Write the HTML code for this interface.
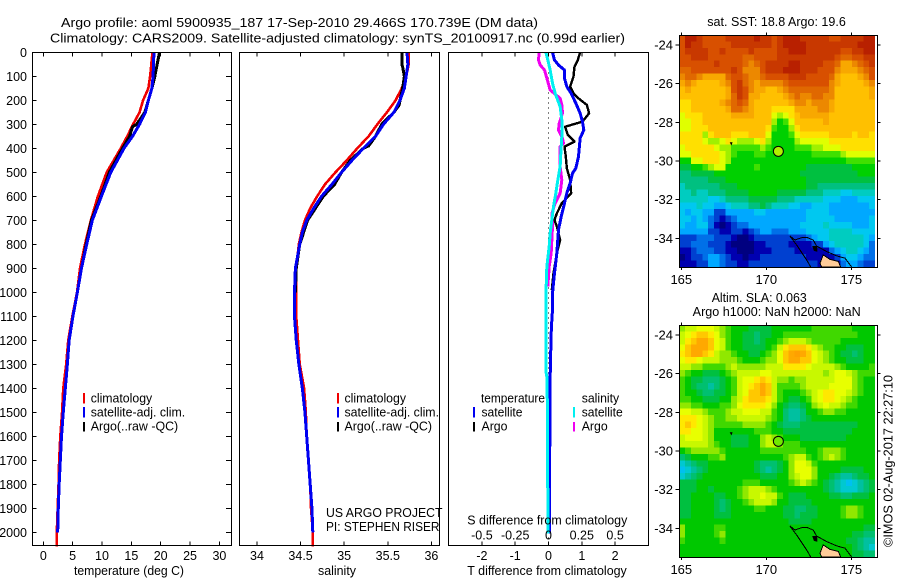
<!DOCTYPE html>
<html lang="en">
<head>
<meta charset="utf-8">
<title>Argo profile 5900935_187</title>
<style>
html,body{margin:0;padding:0;background:#fff;}
svg{display:block;}
text{font-family:"Liberation Sans",sans-serif;font-size:12.5px;fill:#000;}
</style>
</head>
<body>
<svg id="chart" xmlns="http://www.w3.org/2000/svg" width="900" height="580" viewBox="0 0 900 580">
<rect x="0" y="0" width="900" height="580" fill="#fff"/>
<g id="marks"></g>
<g>
<text x="61" y="27" textLength="477" lengthAdjust="spacingAndGlyphs">Argo profile: aoml 5900935_187 17-Sep-2010 29.466S 170.739E (DM data)</text>
<text x="50" y="42.5" textLength="575" lengthAdjust="spacingAndGlyphs">Climatology: CARS2009. Satellite-adjusted climatology: synTS_20100917.nc (0.99d earlier)</text>
</g>
<g>
<text x="74" y="575" textLength="110" lengthAdjust="spacingAndGlyphs">temperature (deg C)</text>
<text x="318" y="575" textLength="38" lengthAdjust="spacingAndGlyphs">salinity</text>
<text x="467.3" y="575" textLength="159.5" lengthAdjust="spacingAndGlyphs">T difference from climatology</text>
<text x="467.3" y="524.5" textLength="160" lengthAdjust="spacingAndGlyphs">S difference from climatology</text>
</g>
<g>
<rect x="83" y="393" width="2" height="10.5" fill="#f00000"/>
<rect x="83" y="407" width="2" height="10.5" fill="#0000f0"/>
<rect x="83" y="422" width="2" height="9.5" fill="#000"/>
<text x="90.7" y="402.5" textLength="61.5" lengthAdjust="spacingAndGlyphs">climatology</text>
<text x="90.7" y="416.5" textLength="94.5" lengthAdjust="spacingAndGlyphs">satellite-adj. clim.</text>
<text x="90.7" y="430.5" textLength="87.5" lengthAdjust="spacingAndGlyphs">Argo(..raw -QC)</text>
</g>
<g>
<rect x="337" y="393" width="2" height="10.5" fill="#f00000"/>
<rect x="337" y="407" width="2" height="10.5" fill="#0000f0"/>
<rect x="337" y="422" width="2" height="9.5" fill="#000"/>
<text x="344.5" y="402.5" textLength="61.5" lengthAdjust="spacingAndGlyphs">climatology</text>
<text x="344.5" y="416.5" textLength="94.5" lengthAdjust="spacingAndGlyphs">satellite-adj. clim.</text>
<text x="344.5" y="430.5" textLength="87.5" lengthAdjust="spacingAndGlyphs">Argo(..raw -QC)</text>
<text x="326" y="516.8" textLength="116.5" lengthAdjust="spacingAndGlyphs">US ARGO PROJECT</text>
<text x="326" y="531" textLength="113.5" lengthAdjust="spacingAndGlyphs">PI: STEPHEN RISER</text>
</g>
<g>
<text x="481" y="402.5" textLength="64" lengthAdjust="spacingAndGlyphs">temperature</text>
<rect x="473" y="407" width="2" height="10.5" fill="#0000f0"/>
<text x="481.5" y="416.5" textLength="41" lengthAdjust="spacingAndGlyphs">satellite</text>
<rect x="473" y="422" width="2" height="9.5" fill="#000"/>
<text x="481.5" y="430.5" textLength="26" lengthAdjust="spacingAndGlyphs">Argo</text>
<text x="581.7" y="402.5" textLength="37.5" lengthAdjust="spacingAndGlyphs">salinity</text>
<rect x="573" y="407" width="2" height="10.5" fill="#00f0f0"/>
<text x="581.7" y="416.5" textLength="41" lengthAdjust="spacingAndGlyphs">satellite</text>
<rect x="573" y="422" width="2" height="9.5" fill="#f000f0"/>
<text x="581.7" y="430.5" textLength="26" lengthAdjust="spacingAndGlyphs">Argo</text>
</g>
<g>
<text x="707.3" y="26" textLength="138.5" lengthAdjust="spacingAndGlyphs">sat. SST: 18.8 Argo: 19.6</text>
<text x="711.7" y="301.8" textLength="95" lengthAdjust="spacingAndGlyphs">Altim. SLA: 0.063</text>
<text x="692.7" y="316" textLength="168" lengthAdjust="spacingAndGlyphs">Argo h1000: NaN h2000: NaN</text>
</g>
<text transform="translate(892.5 547) rotate(-90)" x="0" y="0" textLength="172" lengthAdjust="spacingAndGlyphs">©IMOS 02-Aug-2017 22:27:10</text>
</svg>
<script>
// ---------- profile data ----------
const depthTicks = [0,100,200,300,400,500,600,700,800,900,1000,1100,1200,1300,1400,1500,1600,1700,1800,1900,2000];
const tempTicks = [0,5,10,15,20,25,30];
const salTicks = [34,34.5,35,35.5,36];
const salTickLabels = ['34','34.5','35','35.5','36'];
const tDiffTicks = [-2,-1,0,1,2];
const tDiffTickLabels = ['-2','-1','0','1','2'];
const sDiffTicks = [-0.5,-0.25,0,0.25,0.5];
const sDiffTickLabels = ['-0.5','-0.25','0','0.25','0.5'];

const tempClimDepth = [0,100,150,200,250,300,350,400,500,600,700,800,900,1000,1100,1200,1300,1400,1500,1600,1700,1800,1900,2000,2060];
const tempClim = [18.6,18.2,17.9,17.0,16.4,15.3,14.3,13.2,10.8,9.3,8.1,7.1,6.25,5.75,4.95,4.25,3.9,3.4,3.2,2.9,2.7,2.6,2.45,2.3,2.3];
const tempSatDepth = [0,100,150,200,250,300,350,400,500,600,700,800,900,1000,1100,1200,1300,1400,1500,1600,1700,1800,1900,2000];
const tempSat = [18.85,18.7,18.5,17.9,17.4,16.4,15.2,13.75,11.5,9.9,8.35,7.4,6.5,5.8,5.05,4.4,4.1,3.75,3.4,3.1,2.9,2.7,2.55,2.45];
const tempArgoDepth = [0,50,100,150,200,250,300,310,350,400,500,600,700,800,900,1000];
const tempArgo = [19.8,19.4,19.0,18.5,17.9,17.3,15.9,15.2,14.7,13.5,11.25,9.8,8.2,7.3,6.5,5.8];

const salClimDepth = [0,50,100,150,200,250,300,350,400,450,500,550,600,650,700,750,800,900,1000,1100,1200,1300,1400,1500,1600,1700,1800,1900,2000,2060];
const salClim = [35.74,35.74,35.71,35.66,35.59,35.49,35.38,35.28,35.15,35.03,34.9,34.78,34.69,34.61,34.55,34.51,34.48,34.45,34.45,34.45,34.47,34.49,34.54,34.56,34.57,34.59,34.61,34.62,34.64,34.64];
const salSatDepth = [0,50,100,150,200,250,300,350,400,450,500,550,600,650,700,750,800,900,1000,1100,1200,1300,1400,1500,1600,1700,1800,1900,2000];
const salSat = [35.72,35.73,35.71,35.69,35.64,35.57,35.45,35.36,35.22,35.09,34.97,34.86,34.74,34.65,34.57,34.52,34.49,34.44,34.43,34.43,34.45,34.48,34.52,34.55,34.57,34.59,34.61,34.63,34.64];
const salArgoDepth = [0,50,60,100,150,200,220,250,300,350,390,400,450,500,550,600,650,700,800,900,1000];
const salArgo = [35.66,35.66,35.67,35.69,35.67,35.64,35.63,35.57,35.43,35.36,35.28,35.22,35.07,34.97,34.89,34.76,34.67,34.58,34.49,34.45,34.44];

const dtSatDepth = [0,32,53,74,108,143,171,212,254,289,324,358,435,483,504,546,587,629,685,740,837,921,1004,1074,1115,1171,1351,1518,1726,2004];
const dtSat = [0.12,0.18,0.30,0.48,0.48,0.55,0.68,0.82,0.95,1.02,1.06,0.95,0.90,0.82,0.72,0.65,0.55,0.48,0.38,0.30,0.25,0.18,0.12,0.12,0.10,0.08,0.05,0.05,0.03,0.03];
const dtArgoDepth = [0,32,60,101,143,171,192,219,254,289,310,344,372,393,435,483,532,587,629,671,699,726,782,837,921,990];
const dtArgo = [0.95,0.88,0.78,0.75,0.65,0.75,0.90,1.15,1.22,1.02,0.50,0.58,0.78,0.48,0.52,0.55,0.65,0.68,0.40,0.25,0.18,0.25,0.35,0.25,0.15,0.10];
const dsArgoDepth = [0,32,53,74,108,157,192,219,254,296,324,358,379,393,476,532,587,629,671,726,782,837,893,976];
const dsArgo = [-0.07,-0.075,-0.0625,-0.03,-0.0125,0.0125,0.0875,0.10,0.105,0.08,0.075,0.105,0.1125,0.0875,0.0875,0.10,0.0875,0.05,0.025,0.03,0.025,0.02,0.005,-0.005];
const dsSatDepth = [0,32,74,129,171,226,282,351,421,476,532,587,643,699,754,810,893,976,1074,1171,1337,1358,1698,2004];
const dsSat = [-0.02,-0.005,0.0125,0.03,0.05,0.0875,0.10,0.10,0.0925,0.0875,0.07,0.055,0.0375,0.025,0.0125,0.005,-0.0125,-0.0175,-0.0175,-0.0175,-0.0175,-0.01,-0.0075,-0.0025];

// ---------- map data ----------
const mapLonTicks = [165,170,175];
const mapLatTicks = [-24,-26,-28,-30,-32,-34];
const profileLon = [170.71];
const profileLat = [-29.5];
const coastALon = [171.39,171.78,172.37,172.61];
const coastALat = [-33.88,-34.34,-35.12,-35.48];
const coastBLon = [171.39,171.69,172.08,172.37,172.76,172.96,173.55,174.14,174.63,175.02];
const coastBLat = [-33.88,-34.09,-33.97,-33.95,-34.09,-34.40,-34.69,-34.91,-35.03,-35.48];
const landLon = [173.16,173.35,173.75,174.24,174.37,173.25];
const landLat = [-35.29,-34.86,-35.09,-35.20,-35.48,-35.48];
const isletLon = [167.85,168.02,167.95];
const isletLat = [-29.03,-29.03,-29.2];
const reefLon = [172.7,173.0,173.0,172.8];
const reefLat = [-34.4,-34.4,-34.7,-34.65];

const sstGrid = [
[18,20,20,19,18,18,18,18,19,19,19,19,19,20,19,19,18,19,20,20,20,19,19,19,19,19,18,18,19,19,19,19,20,20],
[18,20,19,19,18,18,18,18,18,19,19,19,19,19,19,19,18,19,20,20,20,20,19,19,19,19,19,19,19,19,19,20,20,20],
[18,19,19,19,19,18,18,19,18,18,18,18,19,18,18,18,18,19,19,20,20,20,19,19,19,19,19,19,18,18,19,19,20,20],
[18,18,19,19,19,18,18,18,18,18,18,17,17,18,18,18,18,19,19,19,19,19,19,19,19,19,19,18,17,17,18,18,19,19],
[18,18,18,18,18,18,19,18,18,18,18,17,16,17,18,19,19,19,19,20,20,19,19,19,19,18,18,17,15,15,16,17,18,19],
[17,17,18,18,18,18,18,18,18,19,18,16,16,16,18,19,19,19,20,20,20,19,19,19,18,18,18,16,15,15,15,16,17,18],
[16,17,17,16,15,15,15,15,17,18,18,17,16,16,17,18,18,18,18,19,19,19,18,18,18,18,17,15,14,14,14,15,16,18],
[15,16,15,14,14,14,14,15,16,18,19,17,16,15,16,16,16,16,17,18,18,18,18,18,18,18,16,15,14,14,14,14,15,16],
[14,15,14,14,14,14,14,14,15,18,19,18,16,15,15,14,14,15,16,17,17,17,17,17,17,17,16,14,14,14,14,14,14,15],
[14,14,14,14,14,14,14,14,15,17,19,18,15,15,14,14,14,14,15,16,17,16,16,17,17,16,16,14,14,14,14,14,14,15],
[13,13,14,14,14,14,14,15,16,17,18,17,15,14,14,14,14,14,14,15,16,16,15,16,16,16,15,14,14,14,14,14,14,14],
[13,13,14,14,14,14,14,14,15,17,17,16,15,14,14,14,13,13,13,13,15,15,15,15,16,16,15,14,14,14,14,14,14,14],
[12,13,13,13,14,14,14,14,14,15,15,15,15,14,14,14,12,11,12,13,14,15,15,15,15,15,14,14,14,14,14,14,14,14],
[12,12,13,13,14,14,14,14,14,14,14,14,14,14,14,14,11,9,10,12,14,14,14,14,14,15,14,14,14,14,14,14,14,14],
[12,12,13,13,13,14,14,14,14,14,14,14,14,14,14,13,10,9,9,11,13,14,14,14,14,14,14,14,14,14,14,14,14,14],
[13,13,13,13,11,13,14,14,14,13,13,13,14,14,14,12,9,9,9,10,12,13,13,13,13,13,14,14,14,14,13,14,14,13],
[13,13,13,13,12,11,11,12,13,12,11,11,11,12,13,11,9,9,9,9,11,12,12,12,12,12,13,13,13,13,13,13,13,13],
[12,13,13,13,13,13,12,11,11,10,10,10,10,10,11,10,9,9,9,9,10,10,10,11,11,12,12,12,13,13,13,13,13,13],
[12,12,13,13,13,13,13,12,11,10,9,9,9,10,10,9,9,9,9,9,9,9,9,10,10,10,10,10,11,12,12,12,12,12],
[9,9,12,12,13,13,13,12,11,9,9,9,9,9,9,9,9,9,9,9,9,9,9,9,9,9,9,9,9,10,10,10,10,10],
[8,8,9,9,10,11,12,12,9,9,9,9,9,10,9,9,9,9,9,9,9,9,8,8,8,8,8,8,8,8,9,9,9,9],
[7,7,8,8,8,8,9,9,9,9,9,9,9,9,9,9,9,9,9,9,9,8,8,8,8,8,8,8,8,8,8,9,9,9],
[7,7,7,7,7,8,8,8,9,9,9,9,9,9,9,9,9,9,9,9,9,9,8,8,8,8,8,8,8,8,8,8,8,8],
[6,7,7,7,7,7,7,8,8,8,9,9,9,9,9,9,9,9,9,9,9,9,8,8,7,7,7,7,7,7,7,7,7,7],
[6,6,7,6,6,7,7,7,8,8,8,8,9,9,9,9,9,8,8,8,8,8,7,7,7,6,6,6,5,5,6,6,6,6],
[6,6,6,6,6,5,5,6,7,7,7,7,8,8,8,8,8,7,7,7,6,6,6,6,6,5,5,5,4,4,4,5,5,5],
[5,5,5,6,5,5,4,4,5,6,6,6,7,7,8,7,6,6,6,5,5,4,4,5,5,5,4,4,4,4,4,4,4,5],
[5,4,5,5,4,4,2,2,4,4,4,4,4,5,5,4,4,4,4,4,4,4,5,5,5,5,4,4,4,4,4,4,4,4],
[5,5,4,5,4,3,2,1,2,3,4,4,4,4,4,4,4,4,4,4,4,4,5,5,5,5,5,4,4,4,4,4,4,5],
[5,4,4,5,5,3,1,0,1,2,3,3,4,4,4,4,4,4,4,4,4,5,5,5,5,6,5,5,5,5,4,4,4,5],
[4,4,4,4,4,2,2,1,1,2,2,1,2,3,4,4,3,3,3,4,4,4,5,5,5,5,6,6,6,6,5,5,5,5],
[2,2,2,3,3,3,2,2,2,1,0,0,1,2,2,2,2,2,2,2,2,2,3,4,5,5,6,6,6,6,6,6,5,4],
[2,2,3,3,3,2,2,2,1,0,0,0,0,1,1,2,2,2,2,1,1,1,1,2,2,4,5,6,6,6,6,6,5,3],
[1,1,2,3,3,3,2,2,1,1,0,0,0,1,1,1,2,2,2,2,1,1,1,1,1,1,3,4,5,6,6,5,4,3],
[0,1,2,2,3,4,4,3,2,1,1,0,1,1,2,2,2,2,2,2,2,2,1,1,1,1,1,2,4,5,5,4,3,3],
[1,1,1,2,2,4,4,3,2,2,1,1,2,2,2,2,2,2,2,2,2,2,2,2,1,1,1,1,3,4,4,3,2,2]
];
const slaGrid = [
[11,12,12,13,13,13,12,11,10,9,9,9,8,8,8,8,9,9,9,9,9,9,9,10,10,10,10,10,10,10,9,9,9,9],
[12,13,14,15,15,14,13,11,10,9,9,8,8,7,8,8,9,9,10,10,10,10,10,10,10,10,10,10,10,10,10,9,9,9],
[12,14,15,16,16,15,13,12,10,9,9,8,8,7,8,9,9,10,11,12,12,12,11,10,10,10,10,10,9,9,9,9,9,9],
[13,15,16,16,16,15,13,12,10,9,9,8,8,8,8,9,10,12,14,15,15,15,14,12,11,10,10,9,9,8,8,8,9,9],
[14,15,16,16,15,14,12,11,11,10,9,9,8,8,9,10,11,13,15,16,17,16,15,13,12,11,10,9,8,8,7,8,9,9],
[13,14,14,13,12,12,12,11,11,11,10,9,9,9,10,11,11,13,15,16,16,15,15,13,12,11,10,9,9,8,8,8,9,9],
[12,12,11,11,10,10,10,10,11,12,11,11,11,11,11,12,12,12,14,14,14,14,13,12,12,12,12,11,10,9,9,9,9,10],
[11,10,9,9,8,8,8,9,10,11,12,12,12,12,13,13,12,12,12,12,12,12,12,12,12,11,12,13,13,12,11,10,10,10],
[10,9,8,8,7,7,7,8,9,10,12,13,13,14,15,14,12,11,11,10,11,11,12,12,12,12,12,13,13,13,11,10,9,9],
[10,9,8,7,7,6,7,8,9,10,12,13,14,15,16,15,12,10,10,10,10,11,12,12,12,12,13,13,13,13,11,10,9,9],
[10,9,9,8,7,7,8,8,9,10,12,13,15,15,16,15,12,10,9,9,9,10,11,12,13,14,14,13,13,12,11,10,9,9],
[10,10,9,9,8,8,8,9,9,11,12,14,15,15,15,14,12,10,9,8,8,9,10,12,13,14,14,13,12,11,10,9,9,9],
[11,11,10,10,9,9,9,10,10,11,13,14,14,14,14,13,11,9,8,7,7,8,9,11,12,13,12,12,11,10,10,9,9,9],
[13,13,12,12,11,10,10,10,11,12,12,13,13,13,12,12,10,9,7,6,6,7,9,9,10,11,11,10,10,9,9,9,9,9],
[14,14,14,13,12,11,10,10,11,11,12,12,12,12,12,11,10,9,7,6,6,7,8,9,9,9,9,9,9,9,9,9,9,9],
[14,15,14,13,12,11,10,10,10,10,10,11,11,11,11,10,9,8,7,7,7,8,8,8,8,8,8,8,8,8,8,9,9,9],
[14,14,13,13,12,11,9,9,9,9,9,9,9,10,10,10,9,9,8,8,8,8,8,8,8,8,8,8,8,8,9,9,9,9],
[12,13,13,13,12,11,9,9,9,8,8,8,9,9,11,12,11,10,9,9,9,8,8,8,8,8,8,8,8,9,9,9,9,9],
[12,12,12,12,12,11,10,9,9,8,8,8,9,9,11,12,12,11,10,10,10,9,9,9,9,9,9,9,9,9,9,9,9,9],
[9,10,11,11,11,11,11,10,9,9,9,9,9,9,10,10,10,10,10,10,10,10,9,9,10,11,11,11,10,9,9,9,9,9],
[7,8,9,9,9,10,10,11,9,9,9,9,9,9,9,9,9,9,10,11,12,12,10,9,10,11,12,11,10,9,9,9,9,9],
[5,6,7,8,8,9,9,9,9,9,9,9,9,8,7,7,7,8,9,11,13,13,12,10,9,9,9,9,9,9,9,9,9,9],
[4,5,6,7,8,9,9,9,9,9,9,9,9,8,7,6,7,8,9,11,13,13,13,11,9,9,9,9,8,8,8,8,9,9],
[5,6,7,8,9,9,9,9,9,9,9,9,9,9,8,8,8,9,9,11,12,13,13,11,9,9,8,7,6,6,7,8,8,9],
[8,8,8,9,9,9,9,9,9,9,9,10,10,10,9,9,9,9,9,10,11,12,11,10,9,8,7,6,5,4,5,6,7,8],
[8,8,8,9,9,8,9,9,9,9,10,11,12,12,12,11,10,9,9,9,9,9,9,9,9,8,7,6,5,5,5,6,7,8],
[8,8,9,9,9,9,8,8,9,9,10,11,12,12,13,12,12,10,9,8,8,8,9,9,9,9,8,8,7,7,8,8,8,9],
[8,8,9,9,9,9,8,7,8,9,9,10,11,12,12,12,11,9,9,8,8,8,8,9,9,9,9,9,9,9,9,9,9,9],
[8,8,9,9,9,9,8,7,8,9,9,9,9,10,10,9,9,9,8,8,7,7,8,8,9,9,9,9,10,11,11,10,9,9],
[8,8,9,9,9,9,8,8,8,9,9,9,9,9,9,9,9,9,8,8,7,8,8,8,9,9,9,9,10,11,11,10,9,9],
[9,9,9,9,9,9,9,9,9,9,9,9,9,9,9,9,9,9,9,8,8,8,8,9,9,9,9,9,9,9,9,9,9,9],
[11,9,9,9,9,9,10,10,9,9,9,9,9,9,9,9,9,9,9,9,9,9,9,9,9,9,9,9,9,9,9,9,8,8],
[11,9,9,9,9,9,10,11,9,9,9,9,9,9,9,9,9,9,9,9,9,9,9,9,9,9,9,9,9,9,8,8,7,7],
[10,9,9,9,9,9,9,10,9,9,9,9,9,9,9,9,9,9,9,9,9,9,9,9,9,9,9,9,9,8,8,7,6,6],
[9,9,9,9,9,9,9,9,9,9,9,9,9,9,9,9,9,9,9,9,9,9,9,9,9,9,9,9,9,9,8,7,6,5],
[9,9,9,9,9,9,9,9,9,9,9,9,9,9,9,9,9,9,9,9,9,9,9,9,9,9,9,9,9,9,8,8,7,7]
];
const sstColors = ['#000080','#0000b0','#0040d0','#0070e8','#00a8ff','#00c8f0','#00ccc0','#00c080','#00c040','#00d000','#40e000','#a0f000','#e0ff00','#ffe000','#ffc000','#f8a800','#ec8800','#e06800','#d85000','#c83800','#b82000'];
const slaColors = ['#000080','#0000b0','#0040d0','#0070e8','#00c0f0','#00c8d0','#00c0a0','#00c070','#00c040','#00c800','#40d800','#90e800','#c8f800','#e8ff00','#ffe800','#ffc800','#ffa800','#ffa000','#ff9000','#ff8000','#ff7000'];

// ---------- scales ----------
const yDepth = d => 52.3 + 0.24 * d;
const xTemp = t => 43.3 + 5.87 * t;
const xSal = s => 257 + 87.2 * (s - 34);
const xDT = t => 548.5 + 33.3 * t;
const xDS = s => 548.5 + 133.2 * s;
const SVGNS = 'http://www.w3.org/2000/svg';
const root = document.getElementById('marks');

function make(tag, attrs, parent) {
  const n = document.createElementNS(SVGNS, tag);
  for (const k in attrs) n.setAttribute(k, attrs[k]);
  (parent || root).appendChild(n);
  return n;
}
function label(str, x, y, anchor, size, name) {
  const t = make('text', {x: x, y: y, 'text-anchor': anchor, 'font-size': size, style: 'font-size:' + size + 'px'});
  t.textContent = str;
  
  
  return t;
}
function tick(x1, y1, x2, y2, name) {
  const l = make('line', {x1: x1, y1: y1, x2: x2, y2: y2, stroke: '#000', 'stroke-width': 1, 'shape-rendering': 'crispEdges'});
  
  
}
function frame(x, y, w, h, name) {
  const r = make('rect', {x: x, y: y, width: w, height: h, fill: 'none', stroke: '#000', 'stroke-width': 1, 'shape-rendering': 'crispEdges'});
  
  
}
function profile(depths, values, xf, color, width, name) {
  const pts = depths.map((d, i) => xf(values[i]).toFixed(2) + ',' + yDepth(d).toFixed(2)).join(' ');
  const p = make('polyline', {points: pts, fill: 'none', stroke: color, 'stroke-width': width, 'stroke-linejoin': 'round', 'shape-rendering': 'crispEdges'});
  
  
}

// ---------- temperature panel ----------
profile(tempClimDepth, tempClim, xTemp, '#f00000', 2.6, 'temperature-climatology-line');
profile(tempArgoDepth, tempArgo, xTemp, '#000000', 3, 'temperature-argo-line');
profile(tempSatDepth, tempSat, xTemp, '#0000f0', 3, 'temperature-satellite-line');
frame(32.5, 52.5, 199, 493, 'temperature-plot-frame');
depthTicks.forEach(d => {
  tick(32.5, yDepth(d), 36.5, yDepth(d), 'depth-tick-left');
  tick(226, yDepth(d), 231.5, yDepth(d), 'depth-tick-right');
  label(String(d), 27, yDepth(d) + 4.5, 'end', 12.5, 'depth-tick-label');
});
tempTicks.forEach(t => {
  tick(xTemp(t), 52.5, xTemp(t), 56.5, 'temperature-tick-top');
  tick(xTemp(t), 541.5, xTemp(t), 545.5, 'temperature-tick-bottom');
  label(String(t), xTemp(t), 560, 'middle', 12.5, 'temperature-tick-label');
});

// ---------- salinity panel ----------
profile(salClimDepth, salClim, xSal, '#f00000', 2.6, 'salinity-climatology-line');
profile(salArgoDepth, salArgo, xSal, '#000000', 3, 'salinity-argo-line');
profile(salSatDepth, salSat, xSal, '#0000f0', 3, 'salinity-satellite-line');
frame(239.5, 52.5, 200, 493, 'salinity-plot-frame');
salTicks.forEach((s, i) => {
  tick(xSal(s), 52.5, xSal(s), 56.5, 'salinity-tick-top');
  tick(xSal(s), 541.5, xSal(s), 545.5, 'salinity-tick-bottom');
  label(salTickLabels[i], xSal(s), 560, 'middle', 12.5, 'salinity-tick-label');
});

// ---------- difference panel ----------
const zeroLine = make('line', {x1: xDT(0), y1: 52.5, x2: xDT(0), y2: 545, stroke: '#000', 'stroke-width': 1, 'stroke-dasharray': '1 4', 'shape-rendering': 'crispEdges'});


profile(dtArgoDepth, dtArgo, xDT, '#000000', 2.4, 'difference-t-argo-line');
profile(dtSatDepth, dtSat, xDT, '#0000f0', 3, 'difference-t-satellite-line');
profile(dsArgoDepth, dsArgo, xDS, '#f000f0', 3, 'difference-s-argo-line');
profile(dsSatDepth, dsSat, xDS, '#00f0f0', 3, 'difference-s-satellite-line');
frame(448.5, 52.5, 200, 493, 'difference-plot-frame');
tDiffTicks.forEach((t, i) => {
  tick(xDT(t), 52.5, xDT(t), 56.5, 'difference-tick-top');
  tick(xDT(t), 541.5, xDT(t), 545.5, 'difference-tick-bottom');
  label(tDiffTickLabels[i], xDT(t), 560, 'middle', 12.5, 't-difference-tick-label');
});
sDiffTicks.forEach((s, i) => {
  label(sDiffTickLabels[i], xDS(s), 539.5, 'middle', 12.5, 's-difference-tick-label');
});

// ---------- maps ----------
const cellLon = 0.3384, cellLat = 1 / 3, gridLon0 = 164.88, gridLat0 = -23.48;
function drawMap(grid, colors, top, fill, name) {
  const xM = lon => 681.3 + 17 * (lon - 165);
  const yM = lat => top + 10 + 19.33 * (-24 - lat);
  const poly = (lons, lats) => lons.map((v, i) => xM(v).toFixed(1) + ',' + yM(lats[i]).toFixed(1)).join(' ');
  const g = make('g', {});
  
  
  grid.forEach((row, r) => row.forEach((v, c) => {
    const rc = make('rect', {
      x: xM(gridLon0 + c * cellLon).toFixed(2), y: yM(gridLat0 - r * cellLat).toFixed(2),
      width: (17 * cellLon + 0.3).toFixed(2), height: (19.33 * cellLat + 0.3).toFixed(2),
      fill: colors[Math.max(0, Math.min(colors.length - 1, Math.round(v)))], 'shape-rendering': 'crispEdges'
    }, g);
    
    
  }));
  const land = make('polygon', {points: poly(landLon, landLat), fill: '#ffcc99', stroke: '#000', 'stroke-width': 1, 'shape-rendering': 'crispEdges'}, g);
  
  
  const reef = make('polygon', {points: poly(reefLon, reefLat), fill: '#000'}, g);
  
  
  const coastA = make('polyline', {points: poly(coastALon, coastALat), fill: 'none', stroke: '#000', 'stroke-width': 1, 'shape-rendering': 'crispEdges'}, g);
  
  
  const coastB = make('polyline', {points: poly(coastBLon, coastBLat), fill: 'none', stroke: '#000', 'stroke-width': 1, 'shape-rendering': 'crispEdges'}, g);
  
  
  const islet = make('polygon', {points: poly(isletLon, isletLat), fill: '#000'}, g);
  
  
  const dot = make('circle', {cx: xM(profileLon[0]), cy: yM(profileLat[0]), r: 5, fill: fill, stroke: '#000', 'stroke-width': 1}, g);
  
  
  frame(679.5, top + 0.5, 198, 232, name + '-map-frame');
  mapLonTicks.forEach(lon => {
    tick(xM(lon), top + 0.5, xM(lon), top - 2.5, 'map-lon-tick-top');
    tick(xM(lon), top + 232.5, xM(lon), top + 235, 'map-lon-tick-bottom');
    label(String(lon), xM(lon), top + 249, 'middle', 13, 'map-lon-tick-label');
  });
  mapLatTicks.forEach(lat => {
    tick(679.5, yM(lat), 675.5, yM(lat), 'map-lat-tick-left');
    tick(877.5, yM(lat), 880.5, yM(lat), 'map-lat-tick-right');
    label(String(lat), 673, yM(lat) + 4.5, 'end', 13, 'map-lat-tick-label');
  });
}
drawMap(sstGrid, sstColors, 35, '#b0f000', 'sst');
drawMap(slaGrid, slaColors, 325, '#70e800', 'sla');
</script>
</body>
</html>
